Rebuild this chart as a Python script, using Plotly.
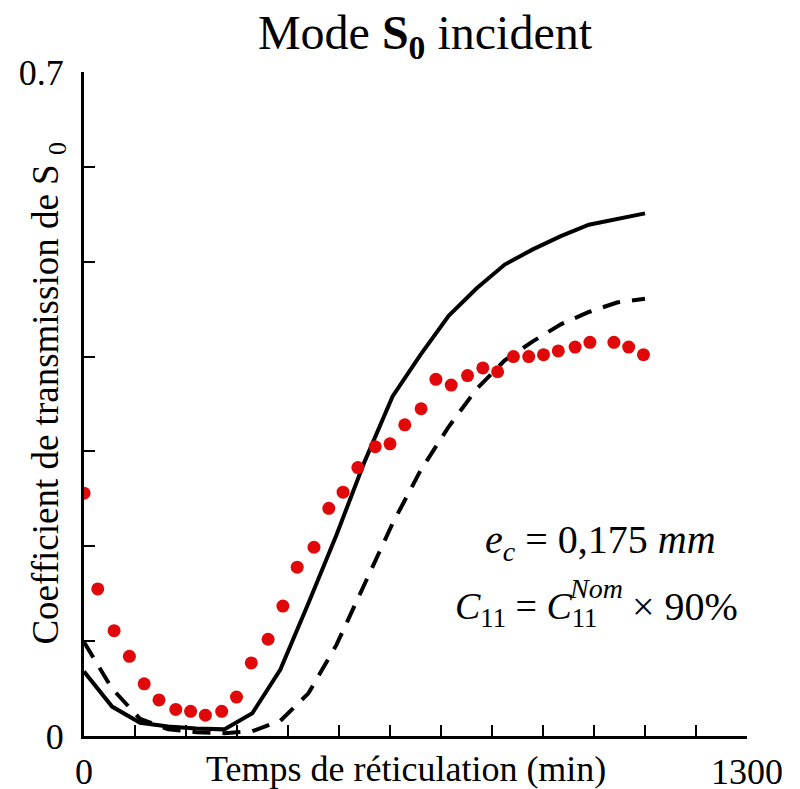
import plotly.graph_objects as go

# measured points (red dots)
meas_t = [0, 27, 59, 89, 118, 147, 180, 209, 238, 270, 299, 328, 361, 390, 418,
          451, 480, 508, 537, 571, 600, 629, 661, 690, 720, 752, 782, 811, 842,
          872, 901, 930, 963, 992, 1039, 1068, 1097]
meas_c = [0.256, 0.155, 0.111, 0.084, 0.055, 0.038, 0.028, 0.026, 0.022, 0.026,
          0.041, 0.077, 0.102, 0.137, 0.178, 0.199, 0.240, 0.257, 0.283, 0.305,
          0.308, 0.328, 0.345, 0.376, 0.370, 0.380, 0.388, 0.384, 0.400, 0.400,
          0.402, 0.406, 0.410, 0.415, 0.415, 0.410, 0.402]

# simulations
sim_t = [0, 55, 110, 165, 220, 275, 330, 385, 440, 495, 550, 605, 660, 715,
         770, 825, 880, 935, 990, 1045, 1100]
sim_solid = [0.068, 0.031, 0.014, 0.010, 0.008, 0.007, 0.024, 0.070, 0.140,
             0.212, 0.289, 0.358, 0.402, 0.443, 0.472, 0.497, 0.513, 0.527,
             0.539, 0.545, 0.551]
sim_dash = [0.099, 0.050, 0.018, 0.007, 0.004, 0.003, 0.005, 0.016, 0.045,
            0.096, 0.160, 0.224, 0.280, 0.326, 0.366, 0.396, 0.416, 0.434,
            0.447, 0.457, 0.461]

x_ticks = list(range(0, 1301, 100))
x_text = ["0"] + [""] * 12 + ["1300"]
y_ticks = [i / 10 for i in range(8)]
y_text = ["0"] + [""] * 6 + ["0.7"]

FONT = "Liberation Serif"

fig = go.Figure()
fig.add_trace(go.Scatter(x=sim_t, y=sim_solid, mode='lines',
                         line=dict(color='black', width=4)))
fig.add_trace(go.Scatter(x=sim_t, y=sim_dash, mode='lines',
                         line=dict(color='black', width=4, dash='18px,12px')))
fig.add_trace(go.Scatter(x=meas_t, y=meas_c, mode='markers',
                         marker=dict(color='#e00808', size=13)))

# page body has an 8px margin, so the figure is a bit smaller and shifted
fig.update_layout(
    width=792, height=781,
    margin=dict(l=76, r=53, t=64, b=53),
    paper_bgcolor='white', plot_bgcolor='white',
    showlegend=False,
    font=dict(family=FONT, size=36, color='black'),
    title=dict(text="Mode <b>S<sub>0</sub></b> incident", x=0.5265, xanchor='center',
               y=0.969, yanchor='middle', font=dict(size=48, family=FONT)),
    xaxis=dict(range=[0, 1300], tickvals=x_ticks, ticktext=x_text,
               ticks='inside', ticklen=11, tickwidth=2, tickcolor='black',
               showline=True, linecolor='black', linewidth=3, automargin=False,
               showgrid=False, zeroline=False, ticklabelstandoff=2),
    yaxis=dict(range=[0, 0.7], tickvals=y_ticks, ticktext=y_text,
               ticks='inside', ticklen=11, tickwidth=2, tickcolor='black',
               showline=True, linecolor='black', linewidth=3, automargin=False,
               showgrid=False, zeroline=False, ticklabelstandoff=10),
)

fig.add_annotation(text="Temps de réticulation (min)", xref='paper', yref='paper',
                   x=0.486, y=-0.049, xanchor='center', yanchor='middle',
                   showarrow=False, font=dict(size=36))
fig.add_annotation(text="Coefficient de transmission de S <sub>0</sub>",
                   xref='paper', yref='paper', x=-0.054, y=0.516,
                   xanchor='center', yanchor='middle', textangle=-90,
                   showarrow=False, font=dict(size=37))

fig.add_annotation(text="<i>e</i><sub><i>c</i></sub> = 0,175 <i>mm</i>",
                   x=1012, y=0.2045, showarrow=False, font=dict(size=40))
fig.add_annotation(text="<i>C</i><sub>11</sub> = <i>C</i><sub>11</sub>",
                   x=(599 - 84) / 0.51, y=0.134, xanchor='right',
                   showarrow=False, font=dict(size=38))
fig.add_annotation(text="<i>Nom</i>", x=(567 - 84) / 0.51, y=0.156,
                   xanchor='left', showarrow=False, font=dict(size=28))
fig.add_annotation(text="× 90%", x=(630 - 84) / 0.51, y=0.136,
                   xanchor='left', showarrow=False, font=dict(size=40))

fig.write_html("out.html")
